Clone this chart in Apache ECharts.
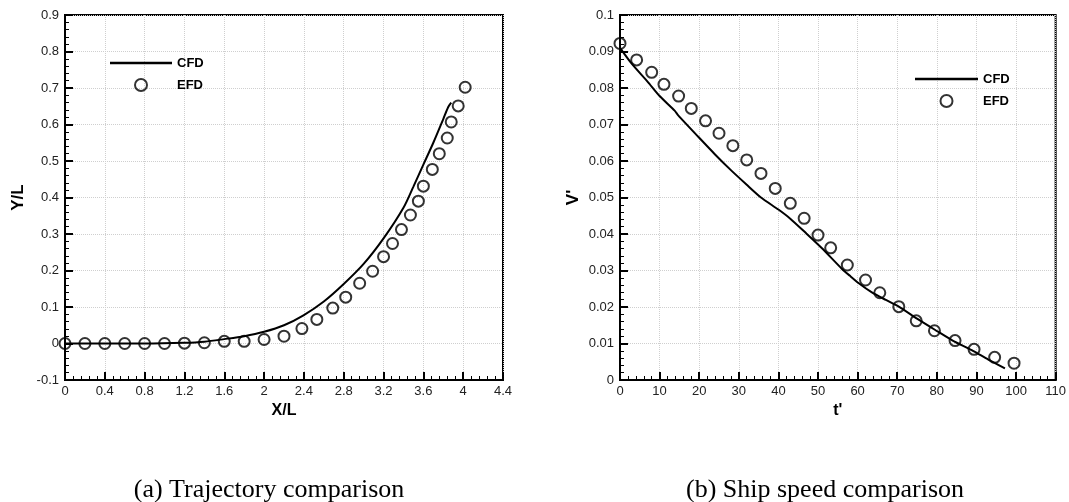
<!DOCTYPE html>
<html>
<head>
<meta charset="utf-8">
<script src="https://cdn.jsdelivr.net/npm/echarts@6/dist/echarts.min.js"></script>
<style>html,body{margin:0;padding:0;background:#fff;}#c{width:1069px;height:502px;}</style>
</head>
<body>
<div id="c"></div>
<script>
// ---- (a) Trajectory comparison ----
const trajCfdX = [0, 0.4, 0.8, 1.2, 1.4, 1.6, 1.8, 2.0, 2.2, 2.4, 2.6, 2.8, 3.0, 3.2, 3.4, 3.5, 3.6, 3.7, 3.8, 3.85, 3.88];
const trajCfdY = [0, 0, 0, 0.002, 0.005, 0.012, 0.02, 0.032, 0.05, 0.078, 0.115, 0.163, 0.218, 0.288, 0.372, 0.43, 0.49, 0.55, 0.615, 0.648, 0.66];
const trajEfdX = [0, 0.2, 0.4, 0.6, 0.8, 1.0, 1.2, 1.4, 1.6, 1.8, 2.0, 2.2, 2.38, 2.53, 2.69, 2.82, 2.96, 3.09, 3.20, 3.29, 3.38, 3.47, 3.55, 3.60, 3.69, 3.76, 3.84, 3.88, 3.95, 4.02];
const trajEfdY = [0, 0, 0, 0, 0, 0, 0.001, 0.002, 0.006, 0.006, 0.011, 0.02, 0.041, 0.066, 0.097, 0.127, 0.165, 0.198, 0.238, 0.274, 0.312, 0.352, 0.39, 0.431, 0.477, 0.52, 0.563, 0.607, 0.651, 0.702];
const trajXAxis = { min: 0, max: 4.4, interval: 0.4 };
const trajYAxis = { min: -0.1, max: 0.9, interval: 0.1 };

// ---- (b) Ship speed comparison ----
const speedCfdT = [0, 3, 7, 10, 13.8, 14.7, 19.7, 24, 28, 32, 35.6, 40, 43, 47, 51, 56, 58, 60.3, 63.6, 67, 70.4, 75, 79.6, 84, 88.8, 93, 97.2];
const speedCfdV = [0.0910, 0.0866, 0.0817, 0.0778, 0.0738, 0.0725, 0.0667, 0.0618, 0.0575, 0.0535, 0.0500, 0.0467, 0.0442, 0.0402, 0.0361, 0.0305, 0.0286, 0.0265, 0.0240, 0.0220, 0.0201, 0.0168, 0.0137, 0.0108, 0.0082, 0.0056, 0.0032];
const speedEfdT = [0, 4.2, 8.0, 11.1, 14.8, 18.0, 21.6, 25.0, 28.5, 32.0, 35.6, 39.2, 43.0, 46.5, 50.0, 53.2, 57.4, 62.0, 65.6, 70.4, 74.8, 79.4, 84.6, 89.4, 94.6, 99.5];
const speedEfdV = [0.0922, 0.0877, 0.0843, 0.081, 0.0778, 0.0744, 0.071, 0.0676, 0.0642, 0.0603, 0.0566, 0.0525, 0.0484, 0.0443, 0.0397, 0.0362, 0.0315, 0.0274, 0.0239, 0.0201, 0.0162, 0.0135, 0.0108, 0.0084, 0.0062, 0.0046];
const speedXAxis = { min: 0, max: 110, interval: 10 };
const speedYAxis = { min: 0, max: 0.1, interval: 0.01 };

const seriesNames = ['CFD', 'EFD'];
const axisNames = { a: ['X/L', 'Y/L'], b: ["t'", "V'"] };
const captions = ['(a) Trajectory comparison', '(b) Ship speed comparison'];

const zip = (xs, ys) => xs.map((x, i) => [x, ys[i]]);
const sans = 'Liberation Sans, Arial, sans-serif';
const serif = 'Liberation Serif, Times New Roman, serif';

function xAx(gridIndex, range, name) {
  return {
    type: 'value', gridIndex, min: range.min, max: range.max, interval: range.interval,
    name, nameLocation: 'middle', nameGap: 21,
    nameTextStyle: { fontFamily: sans, fontWeight: 'bold', fontSize: 16, color: '#000' },
    axisLine: { show: true, onZero: false, lineStyle: { color: '#000', width: 2 } },
    axisTick: { show: true, inside: true, length: 8, lineStyle: { color: '#000', width: 2 } },
    minorTick: { show: true, splitNumber: 5, length: 4, lineStyle: { color: '#000', width: 1 } },
    axisLabel: { fontFamily: sans, fontSize: 13, color: '#222', margin: 5 },
    splitLine: { show: true, lineStyle: { color: '#cfcfcf', type: 'dotted', width: 1 } }
  };
}
function yAx(gridIndex, range, name) {
  return {
    type: 'value', gridIndex, min: range.min, max: range.max, interval: range.interval,
    name, nameLocation: 'middle', nameGap: 38, nameRotate: 90,
    nameTextStyle: { fontFamily: sans, fontWeight: 'bold', fontSize: 17, color: '#000' },
    axisLine: { show: true, onZero: false, lineStyle: { color: '#000', width: 2 } },
    axisTick: { show: true, inside: true, length: 8, lineStyle: { color: '#000', width: 2 } },
    minorTick: { show: true, splitNumber: 5, length: 4, lineStyle: { color: '#000', width: 1 } },
    axisLabel: { fontFamily: sans, fontSize: 13, color: '#222', margin: 6 },
    splitLine: { show: true, lineStyle: { color: '#cfcfcf', type: 'dotted', width: 1 } }
  };
}
const efdStyle = { color: 'rgba(0,0,0,0)', borderColor: '#000', borderWidth: 2 };
function legend(left, top, width) {
  return {
    orient: 'vertical', left, top, itemWidth: width, itemHeight: 12, itemGap: 8,
    data: [
      { name: seriesNames[0], icon: 'path://M0,0L100,0L100,4L0,4Z', itemStyle: { color: '#000', borderWidth: 0 } },
      { name: seriesNames[1], icon: 'circle' }
    ],
    textStyle: { fontFamily: sans, fontWeight: 'bold', fontSize: 13, color: '#000', lineHeight: 14 }
  };
}

const chart = echarts.init(document.getElementById('c'), null, { renderer: 'canvas' });
chart.setOption({
  animation: false,
  backgroundColor: '#fff',
  title: [
    { text: captions[0], left: 264, top: 472, textAlign: 'center',
      textStyle: { fontFamily: serif, fontWeight: 'normal', fontSize: 26, color: '#000' } },
    { text: captions[1], left: 820, top: 472, textAlign: 'center',
      textStyle: { fontFamily: serif, fontWeight: 'normal', fontSize: 26, color: '#000' } }
  ],
  grid: [
    { left: 65, top: 15, width: 438, height: 365, show: true, borderColor: '#000', borderWidth: 2, backgroundColor: '#fff' },
    { left: 620, top: 15, width: 438, height: 365, show: true, borderColor: '#000', borderWidth: 2, backgroundColor: '#fff' }
  ],
  legend: [legend(105, 51, 62), legend(910, 67, 63)],
  xAxis: [xAx(0, trajXAxis, axisNames.a[0]), xAx(1, speedXAxis, axisNames.b[0])],
  yAxis: [yAx(0, trajYAxis, axisNames.a[1]), yAx(1, speedYAxis, axisNames.b[1])],
  series: [
    { name: seriesNames[0], type: 'line', xAxisIndex: 0, yAxisIndex: 0, data: zip(trajCfdX, trajCfdY),
      smooth: 0.3, symbol: 'none', lineStyle: { color: '#000', width: 2 }, itemStyle: { color: '#000' }, z: 2 },
    { name: seriesNames[1], type: 'scatter', xAxisIndex: 0, yAxisIndex: 0, data: zip(trajEfdX, trajEfdY),
      symbol: 'circle', symbolSize: 11, itemStyle: efdStyle, z: 3 },
    { name: seriesNames[0], type: 'line', xAxisIndex: 1, yAxisIndex: 1, data: zip(speedCfdT, speedCfdV),
      smooth: 0.2, symbol: 'none', lineStyle: { color: '#000', width: 2 }, itemStyle: { color: '#000' }, z: 2 },
    { name: seriesNames[1], type: 'scatter', xAxisIndex: 1, yAxisIndex: 1, data: zip(speedEfdT, speedEfdV),
      symbol: 'circle', symbolSize: 11, itemStyle: efdStyle, z: 3 }
  ]
});
</script>
</body>
</html>
